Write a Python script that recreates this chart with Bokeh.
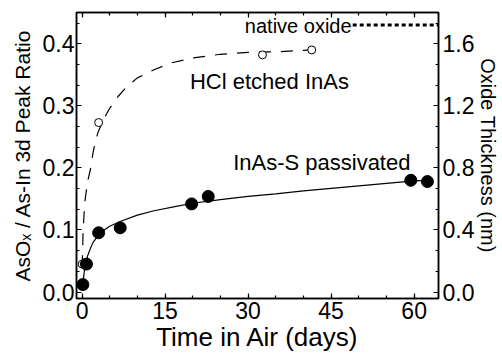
from bokeh.plotting import figure
from bokeh.models import (LinearAxis, Range1d, SingleIntervalTicker, NumeralTickFormatter, Label,
                          CustomJSTickFormatter)
from bokeh.embed import file_html
from bokeh.resources import INLINE

# InAs-S passivated (filled circles)
s_days = [0.15, 0.8, 3.0, 6.9, 19.8, 22.8, 59.4, 62.4]
s_ratio = [0.012, 0.045, 0.0955, 0.1035, 0.142, 0.154, 0.180, 0.178]

# HCl etched InAs (open circles)
h_days = [0.03, 3.0, 32.6, 41.5]
h_ratio = [0.045, 0.273, 0.382, 0.390]

# fitted curves
s_fit_days = [0.1, 0.5, 1, 1.5, 2, 3, 4, 5, 7, 10, 13, 17, 20, 25, 30, 35, 40, 45, 50, 55, 60, 62.4]
s_fit_ratio = [0.010, 0.040, 0.058, 0.070, 0.080, 0.092, 0.100, 0.106, 0.114, 0.124, 0.131, 0.138,
               0.143, 0.149, 0.154, 0.158, 0.163, 0.167, 0.171, 0.175, 0.179, 0.180]
h_fit_days = [0.02, 0.2, 0.5, 1.0, 1.5, 2.0, 2.5, 3.0, 4.0, 5.0, 6.5, 8, 10, 13, 16, 20, 25, 30, 35, 41.5]
h_fit_ratio = [0.040, 0.100, 0.145, 0.178, 0.197, 0.225, 0.246, 0.260, 0.280, 0.296, 0.315, 0.330,
               0.345, 0.358, 0.369, 0.377, 0.383, 0.386, 0.387, 0.390]

# native oxide reference level
native_days = [48.9, 64.4]
native_ratio = [0.430, 0.430]

FONT = "Liberation Sans"

p = figure(width=502, height=354, output_backend="svg", toolbar_location=None,
           x_range=Range1d(-1.0, 64.4), y_range=Range1d(-0.0104, 0.4503),
           min_border_left=76, min_border_right=63, min_border_top=12, min_border_bottom=53)
p.background_fill_color = "white"
p.border_fill_color = "white"
p.outline_line_color = "black"
p.outline_line_width = 1.5
p.grid.visible = False

p.extra_y_ranges = {"thick": Range1d(-0.0416, 1.8012)}

def style(ax, labels=True):
    ax.axis_line_color = "black"
    ax.axis_line_width = 1.5
    ax.major_tick_in = 5
    ax.major_tick_out = 0
    ax.minor_tick_in = 3
    ax.minor_tick_out = 0
    ax.major_tick_line_color = "black"
    ax.minor_tick_line_color = "black"
    ax.major_tick_line_width = 1.2
    ax.minor_tick_line_width = 1.2
    ax.major_label_text_font = FONT
    ax.major_label_text_font_size = "23px" if labels else "1px"
    ax.major_label_text_color = "black"
    ax.axis_label_text_font = FONT
    ax.axis_label_text_font_style = "normal"
    ax.axis_label_text_color = "black"

xa = p.xaxis[0]
xa.ticker = SingleIntervalTicker(interval=15, num_minor_ticks=3)
style(xa)
xa.major_label_standoff = 3
xa.axis_label = "Time in Air (days)"
xa.axis_label_text_font_size = "26px"
xa.axis_label_standoff = 0

ya = p.yaxis[0]
ya.ticker = SingleIntervalTicker(interval=0.1, num_minor_ticks=3)
ya.formatter = NumeralTickFormatter(format="0.0")
style(ya)
ya.major_label_standoff = 2
ya.axis_label = "AsOₓ / As-In 3d Peak Ratio"
ya.axis_label_text_font_size = "21px"
ya.axis_label_standoff = 6

ra = LinearAxis(y_range_name="thick", ticker=SingleIntervalTicker(interval=0.4, num_minor_ticks=3),
                formatter=NumeralTickFormatter(format="0.0"))
style(ra)
ra.major_label_standoff = 4
ra.axis_label = "Oxide Thickness (nm)"
ra.axis_label_text_font_size = "20px"
ra.axis_label_standoff = 0
p.add_layout(ra, "right")

ta = LinearAxis(ticker=SingleIntervalTicker(interval=15, num_minor_ticks=3),
                formatter=CustomJSTickFormatter(code="return ''"))
style(ta, labels=False)
ta.major_label_standoff = 0
p.add_layout(ta, "above")

# curves
p.line(h_fit_days, h_fit_ratio, line_color="black", line_width=1.2, line_dash="12 10")
p.line(s_fit_days, s_fit_ratio, line_color="black", line_width=1.2)
p.line(native_days, native_ratio, line_color="black", line_width=3, line_dash="4 3")

# markers
p.scatter(h_days, h_ratio, marker="circle", size=8, fill_color="white", line_color="black", line_width=1)
p.scatter(s_days, s_ratio, marker="circle", size=12, fill_color="black", line_color="black")

# annotations
p.add_layout(Label(x=19.5, y=0.339, text="HCl etched InAs", text_font=FONT, text_font_size="22px",
                   text_color="black", text_baseline="alphabetic", text_align="left"))
p.add_layout(Label(x=27.3, y=0.209, text="InAs-S passivated", text_font=FONT, text_font_size="22px",
                   text_color="black", text_baseline="alphabetic", text_align="left"))
p.add_layout(Label(x=48.7, y=0.428, text="native oxide", text_font=FONT, text_font_size="20px",
                   text_color="black", text_baseline="alphabetic", text_align="right"))

open("out.html", "w").write(file_html(p, INLINE))
